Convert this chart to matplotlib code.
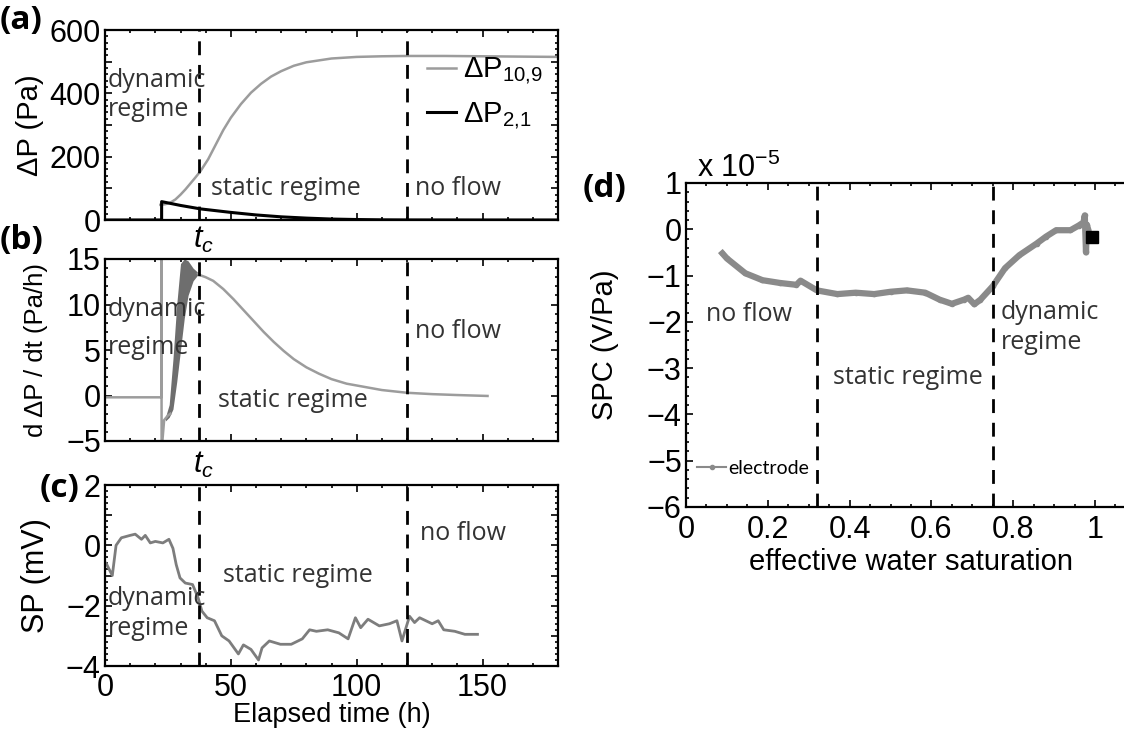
import matplotlib
matplotlib.use("Agg")
import matplotlib.pyplot as plt
from matplotlib.ticker import MultipleLocator, FixedLocator, FuncFormatter

plt.rcParams["font.family"] = ["Liberation Sans", "DejaVu Sans"]
plt.rcParams["mathtext.fontset"] = "custom"
plt.rcParams["mathtext.rm"] = "Liberation Sans"
plt.rcParams["mathtext.it"] = "Liberation Sans:italic"
plt.rcParams["axes.linewidth"] = 1.6

# (a) pressure differences (Pa) vs elapsed time (h)
t_dp109 = [22, 24, 26, 28, 30, 32, 34, 36, 38, 41, 44, 47, 50, 54, 58, 62, 66,
           70, 75, 80, 90, 100, 110, 120, 135, 150, 165, 180]
dp109 = [48, 50, 55, 65, 80, 97, 116, 135, 155, 192, 238, 284, 323, 366, 402,
         430, 453, 470, 487, 498, 510, 515, 517, 518, 518, 517, 516, 515]
t_dp21 = [0, 22.5, 22.5, 30, 38, 50, 60, 70, 80, 90, 100, 110, 120, 150, 180]
dp21 = [0, 0, 58, 46, 35, 24, 16, 10, 6, 3, 1.5, 0.5, 0.2, 0, 0]

# (b) time derivative of dP10,9 (Pa/h)
t_rate_pre = [0, 22.4, 22.4, 22.5, 23.5, 25, 26]
rate_pre = [-0.2, -0.2, 16, -6, -2.7, -2.2, -2.0]
t_band = [24, 25.5, 27, 28.5, 30, 31.5, 33, 35, 37]
band_lo = [-2.8, -2.4, -1.5, 1.5, 5, 8.5, 11, 12.6, 13.3]
band_hi = [-2.4, -1.0, 4, 10, 14.5, 15, 14.8, 14.0, 13.5]
t_rate = [37, 38, 40, 43, 47, 51, 55, 59, 63, 67, 71, 75, 80, 85, 90, 96, 102,
          110, 120, 130, 140, 152]
rate = [13.4, 13.2, 13.0, 12.6, 11.7, 10.6, 9.4, 8.2, 7.0, 5.9, 4.9, 4.0, 3.1,
        2.4, 1.8, 1.3, 1.0, 0.6, 0.3, 0.15, 0.05, -0.05]

# (c) self-potential (mV)
t_sp = [0.5, 2.9, 4.4, 6.5, 10, 12, 14.5, 16, 18, 20, 23, 25.4, 27, 28.3, 29.8,
        31.9, 34.8, 37, 38.5, 40.6, 43.5, 46.4, 49.3, 53, 55, 58, 61, 62.4,
        65.3, 69.7, 74, 78.4, 81.3, 84, 88.5, 92.9, 96.6, 99.5, 101.6, 104.5,
        109, 113, 116, 118, 121, 123, 125, 130, 132.4, 134.6, 139, 143, 148]
sp = [-0.6, -1.0, 0.0, 0.25, 0.33, 0.37, 0.2, 0.33, 0.08, 0.13, 0.08, 0.2,
      -0.1, -0.64, -1.08, -1.25, -1.3, -1.74, -2.18, -2.4, -2.5, -3.0, -3.17,
      -3.6, -3.3, -3.45, -3.8, -3.4, -3.17, -3.28, -3.28, -3.1, -2.8, -2.85,
      -2.8, -2.9, -3.1, -2.4, -2.73, -2.45, -2.67, -2.6, -2.5, -3.17, -2.35,
      -2.56, -2.4, -2.6, -2.5, -2.8, -2.85, -2.95, -2.95]

# (d) self-potential coupling (x 1e-5 V/Pa) vs effective water saturation
sw = [0.089, 0.10, 0.145, 0.187, 0.23, 0.27, 0.28, 0.32, 0.37, 0.415, 0.46,
      0.50, 0.54, 0.585, 0.62, 0.65, 0.68, 0.69, 0.705, 0.72, 0.75, 0.78,
      0.815, 0.857, 0.88, 0.905, 0.94, 0.96, 0.972, 0.975, 0.978, 0.98, 0.983]
spc = [-0.52, -0.63, -0.95, -1.1, -1.16, -1.2, -1.11, -1.32, -1.4, -1.37,
       -1.4, -1.35, -1.32, -1.37, -1.52, -1.61, -1.52, -1.48, -1.62, -1.52,
       -1.23, -0.84, -0.56, -0.31, -0.16, -0.02, -0.02, 0.08, 0.15, 0.3, -0.5,
       0.1, 0.0]
sw_last, spc_last = [0.993], [-0.16]

t_c, t_noflow = 37.5, 120
sw_bounds = [0.32, 0.75]

W, H = 1124, 740
GRAY = "#9c9c9c"
SANS2 = ["Open Sans", "DejaVu Sans"]
ANN = dict(family=SANS2, fontsize=18, color="#333333")
TICK = 22


def rect(l, t, r, b):
    return [l / W, 1 - b / H, (r - l) / W, (b - t) / H]


def style(ax, xpad=6):
    ax.tick_params(which="both", direction="in", top=True, right=True,
                   labelsize=TICK, width=1.2)
    ax.tick_params(axis="y", pad=3)
    ax.tick_params(axis="x", pad=xpad)
    ax.tick_params(which="major", length=5)
    ax.tick_params(which="minor", length=2.5)


def every_other(v, p):
    return f"{v:.0f}".replace("-", "\u2212") if round(v) % 2 == 0 else ""


def vlines(ax, xs):
    for x in xs:
        ax.axvline(x, color="black", lw=2, linestyle=(0, (5, 3.5)), zorder=3)


fig = plt.figure(figsize=(W / 100, H / 100), dpi=100)

# (a)
ax = fig.add_axes(rect(105, 30, 558, 220))
ax.plot(t_dp109, dp109, color=GRAY, lw=1.8, label="ΔP$_{10{,}9}$")
ax.plot(t_dp21, dp21, color="black", lw=2.2, label="ΔP$_{2{,}1}$")
vlines(ax, [t_c, t_noflow])
ax.set_xlim(0, 180)
ax.set_ylim(0, 600)
ax.yaxis.set_major_locator(MultipleLocator(100))
ax.yaxis.set_minor_locator(MultipleLocator(20))
ax.yaxis.set_major_formatter(FuncFormatter(lambda v, p: f"{v:.0f}" if v % 200 == 0 else ""))
ax.xaxis.set_major_locator(MultipleLocator(50))
ax.xaxis.set_minor_locator(MultipleLocator(10))
ax.set_xticklabels([])
ax.set_ylabel("ΔP (Pa)", fontsize=21)
ax.yaxis.set_label_coords(-0.135, 0.5)
style(ax)
ax.text(1, 395, "dynamic\nregime", va="center", ha="left", linespacing=1.2, **ANN)
ax.text(72, 100, "static regime", va="center", ha="center", **ANN)
ax.text(123, 100, "no flow", va="center", ha="left", **ANN)
ax.legend(loc="center left", frameon=False, fontsize=21, handlelength=1.0,
          handletextpad=0.25, labelspacing=0.45, borderaxespad=0, borderpad=0,
          bbox_to_anchor=(0.71, 0.665))
fig.text(0.0, 1 - 21 / H, "(a)", fontsize=24, fontweight="bold",
         family=SANS2, va="center")

# (b)
ax = fig.add_axes(rect(105, 259, 558, 441))
ax.plot(t_rate_pre, rate_pre, color=GRAY, lw=1.8)
ax.fill_between(t_band, band_lo, band_hi, color="#6e6e6e", lw=0)
ax.plot(t_rate, rate, color=GRAY, lw=1.8)
vlines(ax, [t_c, t_noflow])
ax.set_xlim(0, 180)
ax.set_ylim(-5, 15)
ax.yaxis.set_major_locator(MultipleLocator(5))
ax.yaxis.set_minor_locator(MultipleLocator(1))
ax.xaxis.set_major_locator(MultipleLocator(50))
ax.xaxis.set_minor_locator(MultipleLocator(10))
ax.set_xticklabels([])
ax.set_ylabel("d ΔP / dt (Pa/h)", fontsize=18.5)
ax.yaxis.set_label_coords(-0.125, 0.5)
style(ax)
ax.text(1, 9.5, "dynamic", va="center", ha="left", **ANN)
ax.text(1, 5.3, "regime", va="center", ha="left", **ANN)
ax.text(45, -0.5, "static regime", va="center", ha="left", **ANN)
ax.text(123, 7, "no flow", va="center", ha="left", **ANN)
fig.text(0.0, 1 - 241 / H, "(b)", fontsize=24, fontweight="bold",
         family=SANS2, va="center")
fig.text(203 / W, 1 - 240 / H, "$t_c$", fontsize=22, ha="center", va="center")

# (c)
ax = fig.add_axes(rect(105, 485, 558, 666))
ax.plot(t_sp, sp, color="#7d7d7d", lw=2)
vlines(ax, [t_c, t_noflow])
ax.set_xlim(0, 180)
ax.set_ylim(-4, 2)
ax.yaxis.set_major_locator(MultipleLocator(1))
ax.yaxis.set_minor_locator(MultipleLocator(0.2))
ax.yaxis.set_major_formatter(FuncFormatter(every_other))
ax.xaxis.set_major_locator(FixedLocator([0, 50, 100, 150]))
ax.xaxis.set_minor_locator(MultipleLocator(10))
ax.set_xlabel("Elapsed time (h)", fontsize=19.5, labelpad=-1)
ax.set_ylabel("SP (mV)", fontsize=22)
ax.yaxis.set_label_coords(-0.12, 0.5)
style(ax, xpad=5)
ax.text(1, -1.75, "dynamic", va="center", ha="left", **ANN)
ax.text(1, -2.75, "regime", va="center", ha="left", **ANN)
ax.text(47, -1.0, "static regime", va="center", ha="left", **ANN)
ax.text(125, 0.4, "no flow", va="center", ha="left", **ANN)
fig.text(40 / W, 1 - 489 / H, "(c)", fontsize=24, fontweight="bold",
         family=SANS2, va="center")
fig.text(203 / W, 1 - 465 / H, "$t_c$", fontsize=22, ha="center", va="center")

# (d)
ax = fig.add_axes(rect(686, 183, 686 + 1.1 * 409, 507))
ax.plot(sw, spc, color="#8a8a8a", lw=4.5, marker="o", ms=3, label="electrode")
ax.plot(sw_last, spc_last, ls="none", marker="s", ms=8, color="black")
vlines(ax, sw_bounds)
ax.set_xlim(0, 1.1)
ax.set_ylim(-6, 1)
ax.xaxis.set_major_locator(FixedLocator([0, 0.2, 0.4, 0.6, 0.8, 1.0]))
ax.xaxis.set_major_formatter(FuncFormatter(lambda v, p: f"{v:g}"))
ax.xaxis.set_minor_locator(MultipleLocator(0.05))
ax.yaxis.set_major_locator(MultipleLocator(1))
ax.yaxis.set_minor_locator(MultipleLocator(0.2))
ax.set_xlabel("effective water saturation", fontsize=21, labelpad=2)
ax.set_ylabel("SPC (V/Pa)", fontsize=21)
ax.yaxis.set_label_coords(-0.15, 0.5)
style(ax)
ax.text(0.05, -1.85, "no flow", va="center", ha="left", **ANN)
ax.text(0.36, -3.2, "static regime", va="center", ha="left", **ANN)
ax.text(0.77, -1.8, "dynamic", va="center", ha="left", **ANN)
ax.text(0.77, -2.45, "regime", va="center", ha="left", **ANN)
leg = ax.legend(loc="center left", frameon=False, handlelength=1.5,
                handletextpad=0.1, borderaxespad=0, borderpad=0.3,
                bbox_to_anchor=(0.012, 0.12),
                prop={"family": ["Lato", "DejaVu Sans"], "size": 14})
leg.get_lines()[0].set_linewidth(1.5)
fig.text(583 / W, 1 - 188 / H, "(d)", fontsize=24, fontweight="bold",
         family=SANS2, va="center")
fig.text(697 / W, 1 - 168 / H, "x 10$^{-5}$", fontsize=22, va="center")

fig.savefig("out.png", dpi=100)
